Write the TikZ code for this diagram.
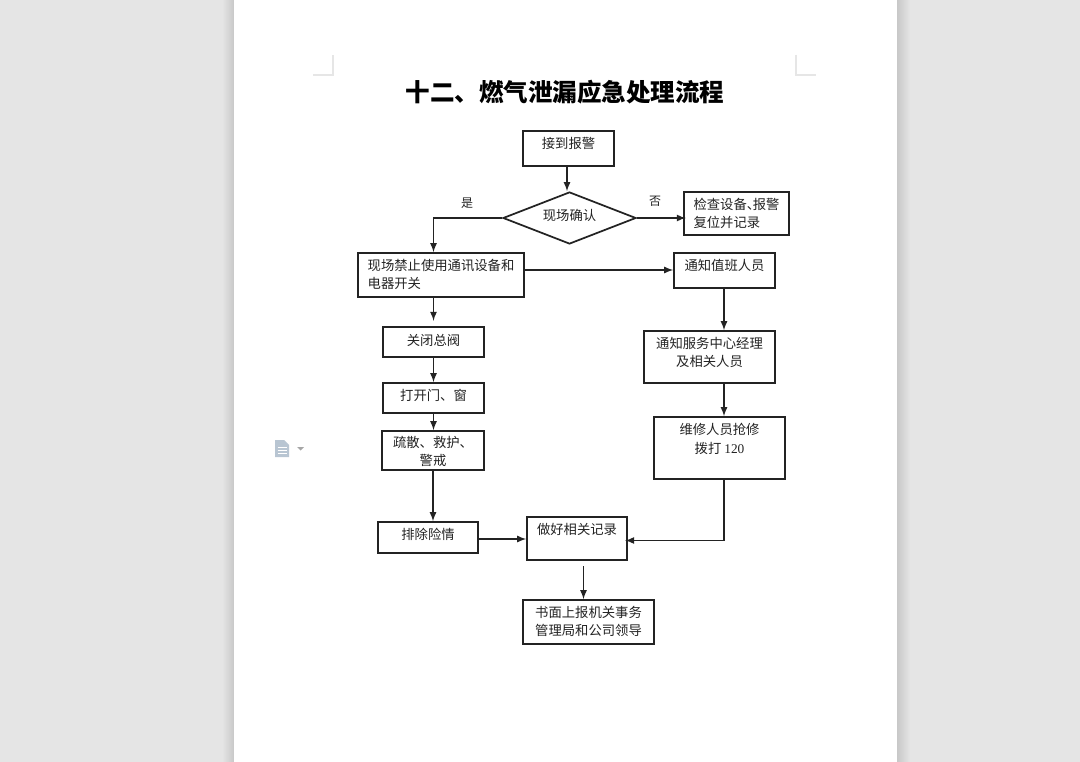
\documentclass[tikz,border=0pt]{standalone}
\usepackage{fontspec}
\setmainfont{Noto Sans CJK SC}
\newfontfamily\numfont{Liberation Serif}
\usepackage{xcolor}
\usetikzlibrary{arrows}
\usetikzlibrary{math}
\usetikzlibrary{shapes.geometric}
\definecolor{mydesk}{RGB}{229,229,229}
\definecolor{myshade}{RGB}{200,200,200}
\definecolor{mycrop}{RGB}{230,230,230}
\definecolor{myicon}{RGB}{184,197,210}
\definecolor{myink}{RGB}{35,35,35}
\tikzset{
box/.style 2 args={draw=myink,line width=1.3pt,rectangle,inner sep=0pt,text=myink,
  minimum width=#1*0.75pt,minimum height=#2*0.75pt,font=\fontsize{10}{13.5}\selectfont},
lift/.style={text depth=#1},
word/.style={inner sep=0pt,text=myink,font=\fontsize{9}{12}\selectfont},
link/.style={-latex,draw=myink,line width=1.3pt},
crop/.style={draw=mycrop,line width=0.9pt}
}

\begin{document}
\begin{tikzpicture}[x=0.75pt,y=-0.75pt]
\useasboundingbox (0,0) rectangle (1080,762);

\fill[mydesk] (0,0) rectangle (1080,762);
\shade[left color=mydesk,right color=myshade] (222,0) rectangle (234,762);
\shade[left color=myshade,right color=mydesk] (897,0) rectangle (910,762);
\fill[white] (234,0) rectangle (897,762);

\draw[crop] (313,75) -- (333,75) -- (333,55);
\draw[crop] (796,55) -- (796,75) -- (816,75);

\fill[myicon] (275,440) -- (284,440) -- (289,445) -- (289,457) -- (275,457) -- cycle;
\draw[white,line width=0.6pt] (277.5,447) -- (286.5,447) (277.5,450) -- (286.5,450) (277.5,453) -- (286.5,453);
\fill[gray!70] (297,447) -- (304,447) -- (300.5,450.5) -- cycle;

\node[inner sep=0pt,text=black,font=\fontsize{18.4}{22}\selectfont\bfseries] (title) at (565,92) {十二、燃气泄漏应急处理流程};

\coordinate (colL) at (433.5,0);
\coordinate (colR) at (724,0);

\node[box={91}{35},lift=8pt] (alarm) at (568.5,148.5) {接到报警};
\node[diamond,aspect=2.56,draw=myink,line width=1.3pt,inner sep=0pt,minimum width=133*0.75pt,minimum height=52*0.75pt,
  text=myink,font=\fontsize{10}{13.5}\selectfont,lift=4pt] (verify) at (569.5,218) {现场确认};
\node[box={105}{43},align=left] (reset) at (736.5,213.5) {检查设备、\kern-5.5pt报警\\复位并记录};
\node[box={166}{44},align=left,lift=1.5pt] (sitestop) at (441,275) {现场禁止使用通讯设备和\\电器开关};
\node[box={101}{35},lift=8pt] (notifyduty) at (724.5,270.5) {通知值班人员};
\node[box={101}{30},lift=3pt] (closevalve) at (433.5,342) {关闭总阀};
\node[box={131}{52},align=center,lift=7pt] (notifymgr) at (709.5,357) {通知服务中心经理\\及相关人员};
\node[box={101}{30},lift=4.5pt] (opendoor) at (433.5,398) {打开门、窗};
\node[box={102}{39},align=center,lift=0pt] (evacuate) at (433,450.5) {疏散、救护、\\警戒};
\node[box={131}{62},align=center,lift=14pt] (repair) at (719.5,448) {维修人员抢修\\[0.75pt]拨打 {\numfont 120}};
\node[box={100}{31},lift=6pt] (hazard) at (428,537.5) {排除险情};
\node[box={100}{43},lift=15pt] (record) at (577,538.5) {做好相关记录};
\node[box={131}{44},align=center,lift=2pt] (report) at (588.5,622) {书面上报机关事务\\管理局和公司领导};

\node[word] (yes) at (467,203) {是};
\node[word] (no) at (655,201) {否};

\coordinate (colA) at (567,0);
\coordinate (colB) at (583.5,0);
\coordinate (rowA) at (0,270);
\coordinate (rowB) at (0,539);
\coordinate (rowC) at (0,540.5);

\draw[link] (alarm.south -| colA) -- (verify.north -| colA);
\draw[link] (verify.west) -| (sitestop.north -| colL);
\draw[link,shorten >=-2pt] (verify.east) -- (reset.west |- verify.east);
\draw[link] (sitestop.east |- rowA) -- (notifyduty.west |- rowA);
\draw[link] (sitestop.south -| colL) -- ([yshift=4pt]closevalve.north -| colL);
\draw[link] (closevalve.south) -- (opendoor.north);
\draw[link] (opendoor.south) -- (evacuate.north -| opendoor.south);
\draw[link] (evacuate.south) -- (hazard.north -| evacuate.south);
\draw[link] (hazard.east |- rowB) -- (record.west |- rowB);
\draw[link] (notifyduty.south -| colR) -- (notifymgr.north -| colR);
\draw[link] (notifymgr.south -| colR) -- (repair.north -| colR);
\draw[link,shorten >=-2pt] (repair.south -| colR) |- (record.east |- rowC);
\draw[link] ([yshift=-4pt]record.south -| colB) -- (report.north -| colB);
\end{tikzpicture}
\end{document}
